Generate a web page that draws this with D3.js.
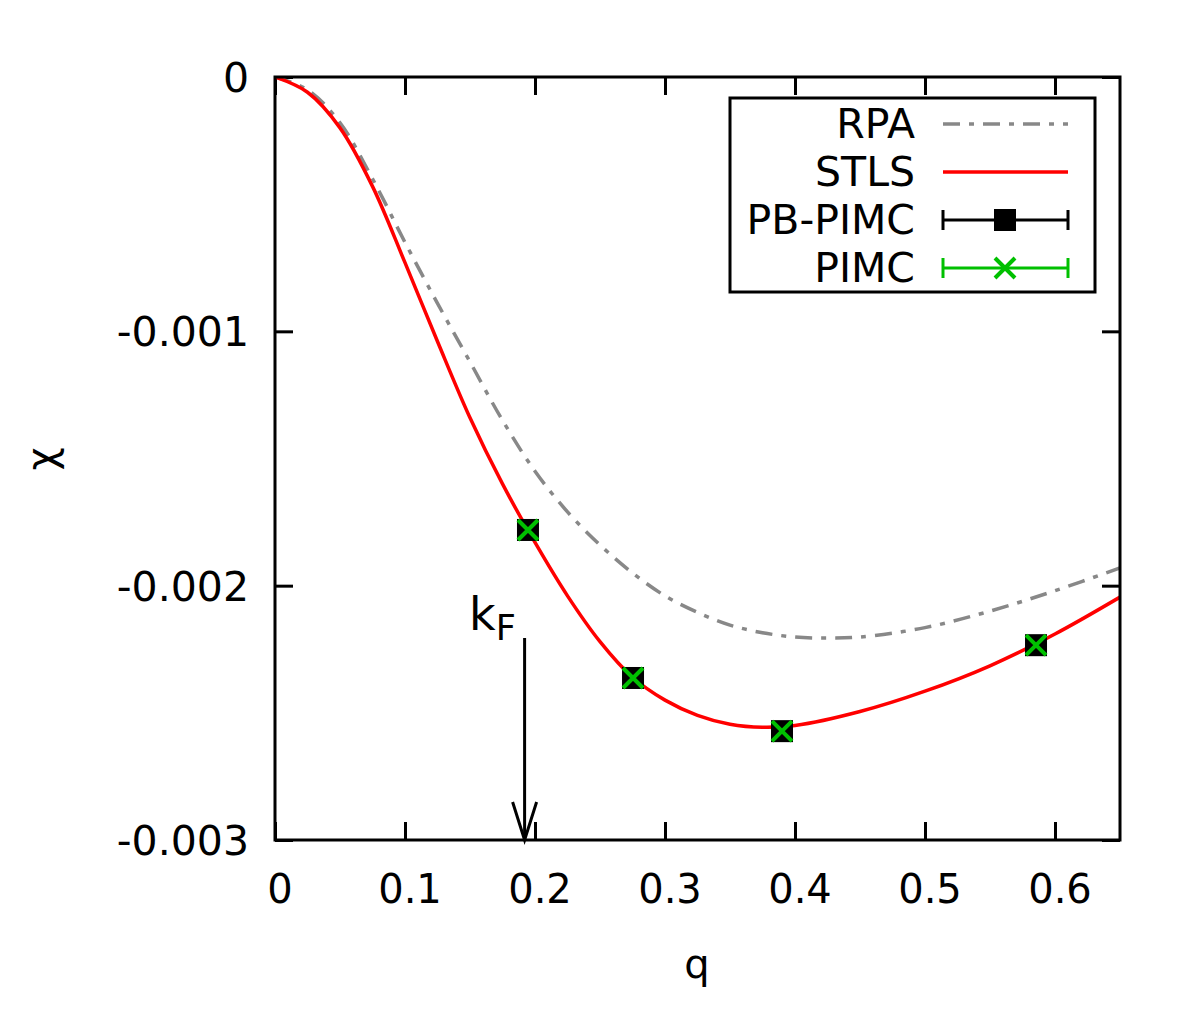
<!DOCTYPE html>
<html>
<head>
<meta charset="utf-8">
<script src="https://cdn.jsdelivr.net/npm/d3@7"></script>
<style>
  body { margin: 0; background: #fff; }
  text { font-family: "DejaVu Sans", sans-serif; fill: #000; }
</style>
</head>
<body>
<svg id="chart" width="1200" height="1019"></svg>
<script>
// wave number q
var rpaQ = [0, 0.025, 0.05, 0.075, 0.1, 0.125, 0.15, 0.175, 0.2, 0.225, 0.25, 0.275, 0.3, 0.325, 0.35, 0.375, 0.4, 0.425, 0.45, 0.5, 0.55, 0.6, 0.65];
var rpaChi = [0, -0.00005, -0.00018, -0.00040, -0.00065, -0.00089, -0.00112, -0.00135, -0.00155, -0.00171, -0.00184, -0.00195, -0.00204, -0.002105, -0.002155, -0.002185, -0.002202, -0.002206, -0.002202, -0.002165, -0.00210, -0.00202, -0.00193];

var stlsQ = [0, 0.025, 0.05, 0.075, 0.1, 0.125, 0.15, 0.175, 0.2, 0.225, 0.25, 0.275, 0.3, 0.325, 0.35, 0.375, 0.4, 0.45, 0.5, 0.55, 0.6, 0.65];
var stlsChi = [0, -0.00006, -0.00020, -0.00043, -0.00073, -0.00104, -0.00134, -0.00160, -0.00183, -0.00204, -0.00222, -0.00236, -0.00245, -0.00251, -0.002545, -0.002557, -0.00255, -0.002495, -0.002415, -0.002315, -0.00219, -0.002045];

var pimcQ = [0.1946, 0.2754, 0.3900, 0.5854];
var pimcChi = [-0.001781, -0.002363, -0.002572, -0.002234];
var pimcErr = [0.000004, 0.000004, 0.000004, 0.000004];

var xTicks = [0, 0.1, 0.2, 0.3, 0.4, 0.5, 0.6];
var yTicks = [0, -0.001, -0.002, -0.003];
var kF = 0.192;

(function () {
var svg = d3.select("#chart");
var mLeft = 275, mRight = 1120, mTop = 77, mBottom = 840;

var x = d3.scaleLinear().domain([0, 0.65]).range([mLeft, mRight]);
var y = d3.scaleLinear().domain([-0.003, 0]).range([mBottom, mTop]);

svg.append("clipPath").attr("id", "plotclip")
    .append("rect").attr("x", mLeft).attr("y", mTop)
    .attr("width", mRight - mLeft).attr("height", mBottom - mTop);

// ticks, all four sides, pointing inward
var tl = 18;
function tidy(g) {
    g.select(".domain").remove();
    g.selectAll("line").attr("stroke-width", 3);
}
svg.append("g").attr("transform", "translate(0," + mBottom + ")")
    .call(d3.axisBottom(x).tickValues(xTicks).tickSize(-tl).tickFormat("")).call(tidy);
svg.append("g").attr("transform", "translate(0," + mTop + ")")
    .call(d3.axisTop(x).tickValues(xTicks).tickSize(-tl).tickFormat("")).call(tidy);
svg.append("g").attr("transform", "translate(" + mLeft + ",0)")
    .call(d3.axisLeft(y).tickValues(yTicks).tickSize(-tl).tickFormat("")).call(tidy);
svg.append("g").attr("transform", "translate(" + mRight + ",0)")
    .call(d3.axisRight(y).tickValues(yTicks).tickSize(-tl).tickFormat("")).call(tidy);

// tick labels
svg.append("g").selectAll("text")
    .data(xTicks).enter().append("text")
    .attr("x", function (d) { return x(d) + 5; })
    .attr("y", 903)
    .attr("text-anchor", "middle")
    .style("font-size", "40px")
    .text(function (d) { return d; });

svg.append("g").selectAll("text")
    .data(yTicks).enter().append("text")
    .attr("x", 249)
    .attr("y", function (d) { return y(d) + 15; })
    .attr("text-anchor", "end")
    .style("font-size", "41px")
    .text(function (d) { return d === 0 ? "0" : d.toFixed(3); });

// axis titles
svg.append("text").attr("x", 697).attr("y", 978)
    .attr("text-anchor", "middle").style("font-size", "40px").text("q");
svg.append("text").attr("transform", "translate(55,459) rotate(-90)")
    .attr("text-anchor", "middle").style("font-size", "40px").text("χ");

var plot = svg.append("g").attr("clip-path", "url(#plotclip)");

var line = d3.line()
    .x(function (d) { return x(d[0]); })
    .y(function (d) { return y(d[1]); })
    .curve(d3.curveCatmullRom.alpha(0.5));

var rpaDash = "17,9,5,9";

plot.append("path")
    .datum(d3.zip(rpaQ, rpaChi))
    .attr("d", line)
    .attr("fill", "none")
    .attr("stroke", "#888888")
    .attr("stroke-width", 3.5)
    .attr("stroke-dasharray", rpaDash);

plot.append("path")
    .datum(d3.zip(stlsQ, stlsChi))
    .attr("d", line)
    .attr("fill", "none")
    .attr("stroke", "#ff0000")
    .attr("stroke-width", 3.5);

// kF arrow
svg.append("line")
    .attr("x1", x(kF)).attr("x2", x(kF))
    .attr("y1", 638).attr("y2", mBottom)
    .attr("stroke", "#000").attr("stroke-width", 3);
svg.append("path")
    .attr("d", "M" + (x(kF) - 12) + "," + (mBottom - 38) + "L" + x(kF) + "," + mBottom + "L" + (x(kF) + 12) + "," + (mBottom - 38))
    .attr("fill", "none").attr("stroke", "#000").attr("stroke-width", 3);
var kfText = svg.append("text").attr("x", 469).attr("y", 630).style("font-size", "46px");
kfText.append("tspan").text("k");
kfText.append("tspan").attr("dy", 10).style("font-size", "35px").text("F");

// data points
var pts = d3.zip(pimcQ, pimcChi, pimcErr);
var ms = 11;

function errBar(g, color) {
    g.selectAll(null).data(pts).enter().append("line")
        .attr("x1", function (d) { return x(d[0]); })
        .attr("x2", function (d) { return x(d[0]); })
        .attr("y1", function (d) { return y(d[1] - d[2]); })
        .attr("y2", function (d) { return y(d[1] + d[2]); })
        .attr("stroke", color).attr("stroke-width", 3);
}

var pb = svg.append("g");
errBar(pb, "#000");
pb.selectAll("rect").data(pts).enter().append("rect")
    .attr("x", function (d) { return x(d[0]) - ms; })
    .attr("y", function (d) { return y(d[1]) - ms; })
    .attr("width", 2 * ms).attr("height", 2 * ms)
    .attr("fill", "#000");

var pm = svg.append("g");
errBar(pm, "#00c000");
var cs = 10;
pm.selectAll("path").data(pts).enter().append("path")
    .attr("d", function (d) {
        var cx = x(d[0]), cy = y(d[1]);
        return "M" + (cx - cs) + "," + (cy - cs) + "L" + (cx + cs) + "," + (cy + cs) +
            "M" + (cx - cs) + "," + (cy + cs) + "L" + (cx + cs) + "," + (cy - cs);
    })
    .attr("stroke", "#00c000").attr("stroke-width", 4).attr("fill", "none");

// frame
svg.append("rect")
    .attr("x", mLeft).attr("y", mTop)
    .attr("width", mRight - mLeft).attr("height", mBottom - mTop)
    .attr("fill", "none").attr("stroke", "#000").attr("stroke-width", 3);

// legend
var legend = svg.append("g");
legend.append("rect")
    .attr("x", 730).attr("y", 98).attr("width", 365).attr("height", 194)
    .attr("fill", "#fff").attr("stroke", "#000").attr("stroke-width", 3);

var names = ["RPA", "STLS", "PB-PIMC", "PIMC"];
var rowY = [124, 172, 220, 268];
var lx1 = 943, lx2 = 1068, lmid = 1005;

legend.selectAll("text").data(names).enter().append("text")
    .attr("x", 915)
    .attr("y", function (d, i) { return rowY[i] + 14; })
    .attr("text-anchor", "end")
    .style("font-size", "41px")
    .text(function (d) { return d; });

legend.append("line").attr("x1", lx1).attr("x2", lx2).attr("y1", rowY[0]).attr("y2", rowY[0])
    .attr("stroke", "#888888").attr("stroke-width", 3.5).attr("stroke-dasharray", rpaDash);
legend.append("line").attr("x1", lx1).attr("x2", lx2).attr("y1", rowY[1]).attr("y2", rowY[1])
    .attr("stroke", "#ff0000").attr("stroke-width", 3.5);

function legendErr(ry, color) {
    legend.append("line").attr("x1", lx1).attr("x2", lx2).attr("y1", ry).attr("y2", ry)
        .attr("stroke", color).attr("stroke-width", 3);
    legend.append("line").attr("x1", lx1).attr("x2", lx1).attr("y1", ry - 10).attr("y2", ry + 10)
        .attr("stroke", color).attr("stroke-width", 3);
    legend.append("line").attr("x1", lx2).attr("x2", lx2).attr("y1", ry - 10).attr("y2", ry + 10)
        .attr("stroke", color).attr("stroke-width", 3);
}
legendErr(rowY[2], "#000");
legend.append("rect").attr("x", lmid - ms).attr("y", rowY[2] - ms)
    .attr("width", 2 * ms).attr("height", 2 * ms).attr("fill", "#000");
legendErr(rowY[3], "#00c000");
legend.append("path")
    .attr("d", "M" + (lmid - cs) + "," + (rowY[3] - cs) + "L" + (lmid + cs) + "," + (rowY[3] + cs) +
        "M" + (lmid - cs) + "," + (rowY[3] + cs) + "L" + (lmid + cs) + "," + (rowY[3] - cs))
    .attr("stroke", "#00c000").attr("stroke-width", 4).attr("fill", "none");
})();
</script>
</body>
</html>
